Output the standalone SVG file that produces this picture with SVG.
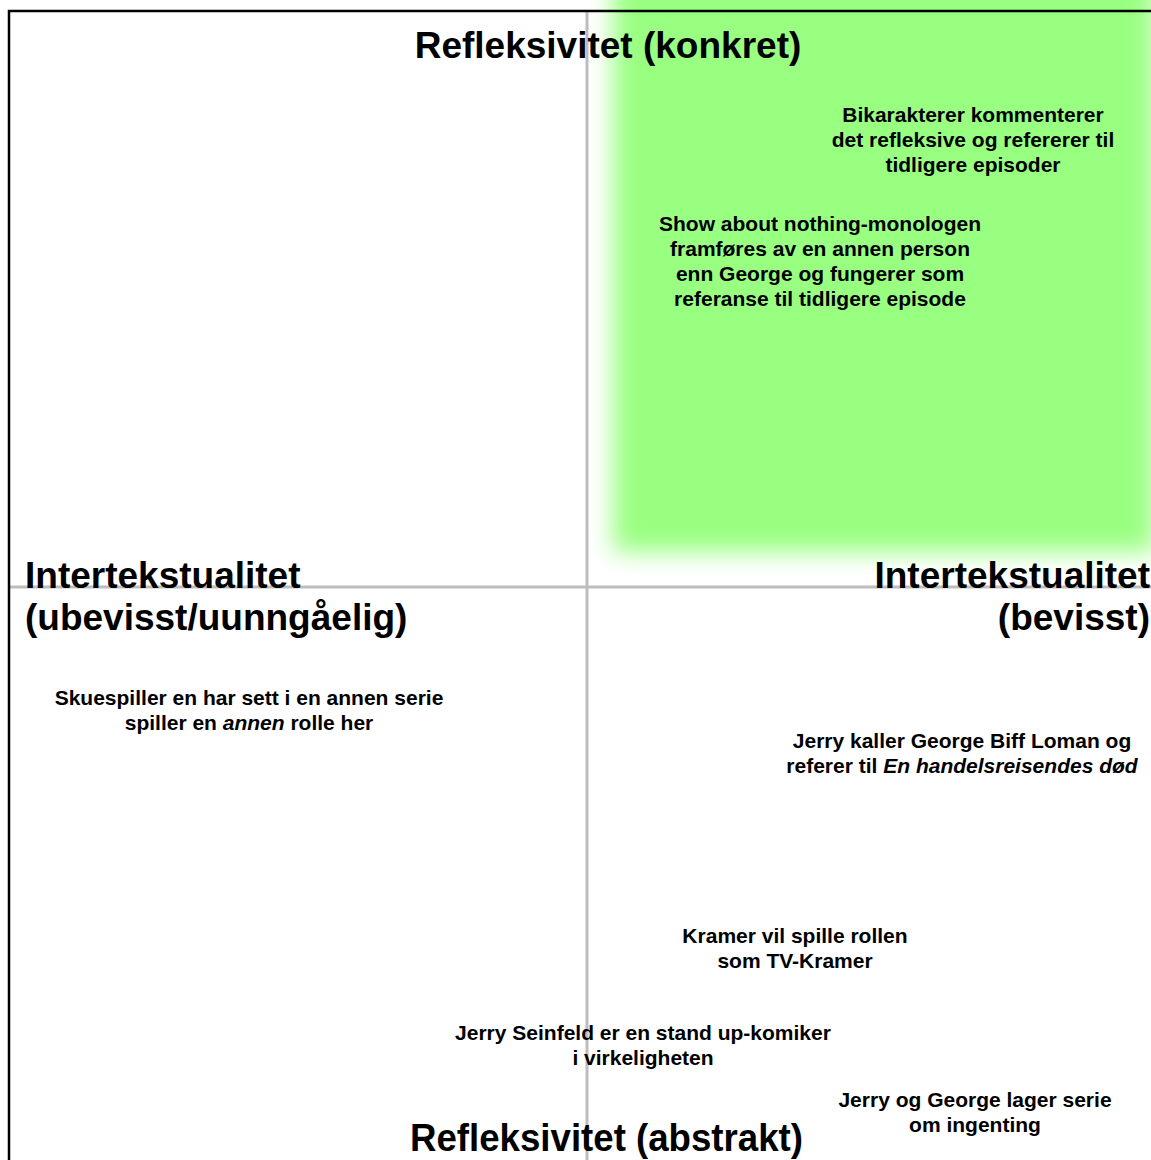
<svg xmlns="http://www.w3.org/2000/svg" width="1151" height="1160" viewBox="0 0 1151 1160">
<style>
.t{font-family:"Liberation Sans",Arial,sans-serif;font-weight:bold;fill:#000}
.big{font-size:37px}
.sm{font-size:21px;text-anchor:middle}
.axis{stroke:#bdbdbd;stroke-width:3;fill:none}
</style>
<defs>
<filter id="blur" filterUnits="userSpaceOnUse" x="0" y="-100" width="1300" height="800">
<feGaussianBlur stdDeviation="12"/>
</filter>
</defs>
<rect width="1151" height="1160" fill="#fff"/>
<g id="zone">
<rect x="613" y="-60" width="542" height="612" fill="#99ff80" filter="url(#blur)"/>
</g>
<g id="connectors">
<line class="axis" x1="587" y1="11" x2="587" y2="1160"/>
<line class="axis" x1="9" y1="587" x2="1151" y2="587"/>
</g>
<g id="frame">
<path d="M9 1160 V11 H1151" fill="none" stroke="#000" stroke-width="2.5"/>
</g>
<g id="title-top"><text class="t big" x="608" y="58" text-anchor="middle">Refleksivitet (konkret)</text></g>
<g id="title-bottom"><text class="t" font-size="39" x="410" y="1151" textLength="393" lengthAdjust="spacingAndGlyphs">Refleksivitet (abstrakt)</text></g>
<g id="title-left">
<text class="t big" x="25" y="588">Intertekstualitet</text>
<text class="t big" x="25" y="630">(ubevisst/uunngåelig)</text>
</g>
<g id="title-right">
<text class="t big" x="1150" y="588" text-anchor="end">Intertekstualitet</text>
<text class="t big" x="1150" y="630" text-anchor="end">(bevisst)</text>
</g>
<g id="n-bikarakterer">
<text class="t sm" x="973" y="122">Bikarakterer kommenterer</text>
<text class="t sm" x="973" y="147">det refleksive og refererer til</text>
<text class="t sm" x="973" y="172">tidligere episoder</text>
</g>
<g id="n-show">
<text class="t sm" x="820" y="231">Show about nothing-monologen</text>
<text class="t sm" x="820" y="256">framføres av en annen person</text>
<text class="t sm" x="820" y="281">enn George og fungerer som</text>
<text class="t sm" x="820" y="306">referanse til tidligere episode</text>
</g>
<g id="n-skuespiller">
<text class="t sm" x="249" y="705">Skuespiller en har sett i en annen serie</text>
<text class="t sm" x="249" y="730">spiller en <tspan font-style="italic">annen</tspan> rolle her</text>
</g>
<g id="n-biff">
<text class="t sm" x="962" y="748">Jerry kaller George Biff Loman og</text>
<text class="t sm" x="962" y="773">referer til <tspan font-style="italic">En handelsreisendes død</tspan></text>
</g>
<g id="n-kramer">
<text class="t sm" x="795" y="943">Kramer vil spille rollen</text>
<text class="t sm" x="795" y="968">som TV-Kramer</text>
</g>
<g id="n-seinfeld">
<text class="t sm" x="643" y="1040">Jerry Seinfeld er en stand up-komiker</text>
<text class="t sm" x="643" y="1065">i virkeligheten</text>
</g>
<g id="n-serie">
<text class="t sm" x="975" y="1107">Jerry og George lager serie</text>
<text class="t sm" x="975" y="1132">om ingenting</text>
</g>
</svg>
